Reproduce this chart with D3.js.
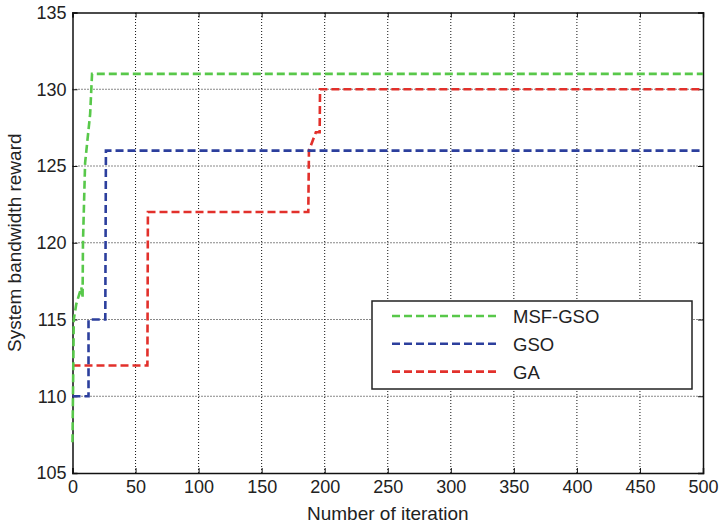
<!DOCTYPE html>
<html>
<head>
<meta charset="utf-8">
<script src="https://cdn.jsdelivr.net/npm/d3@7"></script>
<style>
  body { margin: 0; background: #fff; }
  text { font-family: "Liberation Sans", Arial, sans-serif; fill: #222; }
</style>
</head>
<body>
<div id="chart"></div>
<script>
'use strict'
/* Datos */
var msfIter   = [0, 1, 3, 7, 8, 8.3, 10, 14, 15.5, 500];
var msfReward = [107, 115, 116, 117.1, 116.4, 120, 125.2, 128.4, 131, 131];

var gsoIter   = [0, 12.7, 12.7, 26, 26.5, 500];
var gsoReward = [110, 110, 115, 115, 126, 126];

var gaIter    = [0, 59.4, 59.8, 187, 187.5, 193, 196, 196.3, 500];
var gaReward  = [112, 112, 122, 122, 126, 127.2, 127.2, 130, 130];

var xTicks = [0, 50, 100, 150, 200, 250, 300, 350, 400, 450, 500];
var yTicks = [105, 110, 115, 120, 125, 130, 135];
var seriesNames = ['MSF-GSO', 'GSO', 'GA'];
var colores = ['#58c84a', '#2c3f9d', '#e2302b'];

var w = 720;
var h = 525;
var m = {left: 72.5, top: 12.5, right: 17, bottom: 52};

function dibujo(){
	var svg = d3.select('#chart')
				.append('svg')
				.attr('width', w)
				.attr('height', h);

	var xScale = d3.scaleLinear().domain([0, 500]).range([m.left, w - m.right]);
	var yScale = d3.scaleLinear().domain([105, 135]).range([h - m.bottom, m.top]);

	// Rejilla punteada
	var grid = svg.append('g');
	grid.selectAll('.gx')
		.data(xTicks.slice(1, -1))
		.enter()
		.append('line')
		.attr('x1', (d)=> xScale(d)).attr('x2', (d)=> xScale(d))
		.attr('y1', yScale(105)).attr('y2', yScale(135))
		.attr('stroke', '#111').attr('stroke-width', 1)
		.attr('stroke-dasharray', '1,2');
	grid.selectAll('.gy')
		.data(yTicks.slice(1, -1))
		.enter()
		.append('line')
		.attr('y1', (d)=> yScale(d)).attr('y2', (d)=> yScale(d))
		.attr('x1', xScale(0)).attr('x2', xScale(500))
		.attr('stroke', '#111').attr('stroke-width', 1)
		.attr('stroke-dasharray', '1,2');

	// Ejes con marcas hacia adentro
	var xAxis = d3.axisBottom(xScale).tickValues(xTicks).tickSize(-5).tickPadding(7);
	var yAxis = d3.axisLeft(yScale).tickValues(yTicks).tickSize(-5).tickPadding(6);
	var gx = svg.append('g').attr('transform', 'translate(0,' + yScale(105) + ')').call(xAxis);
	var gy = svg.append('g').attr('transform', 'translate(' + xScale(0) + ',0)').call(yAxis);
	svg.append('g').attr('transform', 'translate(0,' + yScale(135) + ')')
		.call(d3.axisTop(xScale).tickValues(xTicks).tickSize(-5).tickFormat(''));
	svg.append('g').attr('transform', 'translate(' + xScale(500) + ',0)')
		.call(d3.axisRight(yScale).tickValues(yTicks).tickSize(-5).tickFormat(''));
	svg.selectAll('.domain').attr('stroke', '#111').attr('stroke-width', 1.5);
	svg.selectAll('.tick line').attr('stroke', '#111');
	gx.selectAll('text').attr('font-size', 18).style('font-family', '"Liberation Sans", Arial, sans-serif').attr('fill', '#222');
	gy.selectAll('text').attr('font-size', 18).style('font-family', '"Liberation Sans", Arial, sans-serif').attr('fill', '#222');

	// Titulos de ejes
	svg.append('text')
	   .attr('x', (xScale(0) + xScale(500)) / 2)
	   .attr('y', 520)
	   .attr('text-anchor', 'middle')
	   .attr('font-size', 19)
	   .text('Number of iteration');
	svg.append('text')
	   .attr('transform', 'translate(21,' + (yScale(120)) + ') rotate(-90)')
	   .attr('text-anchor', 'middle')
	   .attr('font-size', 19)
	   .text('System bandwidth reward');

	// Curvas
	var linea = d3.line()
				  .x((d)=> xScale(d[0]))
				  .y((d)=> yScale(d[1]));
	var series = [
		d3.zip(msfIter, msfReward),
		d3.zip(gsoIter, gsoReward),
		d3.zip(gaIter, gaReward)
	];
	// se dibuja GA primero, MSF-GSO al final
	[2, 1, 0].forEach((i)=>{
		svg.append('path')
		   .datum(series[i])
		   .attr('d', linea)
		   .attr('fill', 'none')
		   .attr('stroke', colores[i])
		   .attr('stroke-width', 2.6)
		   .attr('stroke-dasharray', '8,4');
	});

	// Leyenda
	var ley = svg.append('g');
	ley.append('rect')
	   .attr('x', 372).attr('y', 301)
	   .attr('width', 320).attr('height', 88)
	   .attr('fill', '#fff')
	   .attr('stroke', '#222').attr('stroke-width', 1.5);
	seriesNames.forEach((n, i)=>{
		var yy = 316 + i * 27.8;
		ley.append('line')
		   .attr('x1', 392).attr('x2', 498)
		   .attr('y1', yy).attr('y2', yy)
		   .attr('stroke', colores[i])
		   .attr('stroke-width', 2.6)
		   .attr('stroke-dasharray', '8,4');
		ley.append('text')
		   .attr('x', 513).attr('y', yy + 7)
		   .attr('font-size', 18.5)
		   .text(n);
	});
}
dibujo();
</script>
</body>
</html>
